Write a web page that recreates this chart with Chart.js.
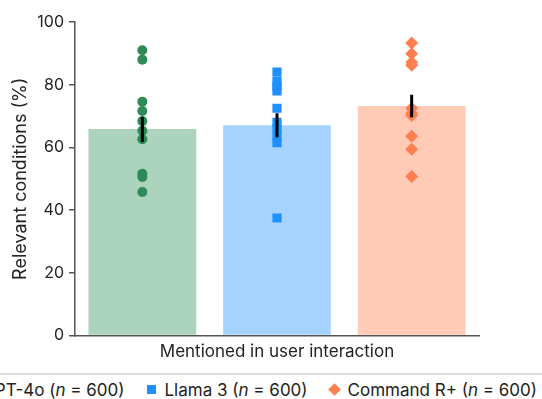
<!DOCTYPE html>
<html>
<head>
<meta charset="utf-8">
<script src="https://cdn.jsdelivr.net/npm/chart.js@4"></script>
<style>
  html, body { margin: 0; padding: 0; background: #fff; overflow: hidden; }
  #wrap { position: absolute; left: 0; top: 0; width: 542px; height: 366px; }
  #legend {
    position: absolute; left: 0; top: 373px; width: 542px; height: 26px;
    border-top: 2px solid #dedede; overflow: hidden;
    font-family: Inter, sans-serif; font-size: 17px; color: #222;
  }
  #legendRow { position: absolute; right: 5px; top: 5px; white-space: nowrap; }
  .item { display: inline-block; margin-left: 22px; }
  .mk { display: inline-block; vertical-align: middle; margin-right: 9px; position: relative; top: -2px; }
</style>
</head>
<body>
<div id="wrap"><canvas id="chart"></canvas></div>
<div id="legend"><div id="legendRow"></div></div>
<script>
// Data
const xTitle = 'Mentioned in user interaction';
const models = ['GPT-4o', 'Llama 3', 'Command R+'];
const sampleSizes = [600, 600, 600];
const barMeans = [65.9, 67.1, 73.2];
const errLow = [61.7, 63.2, 69.6];
const errHigh = [69.7, 70.9, 76.8];
const gptPoints = [91.0, 88.0, 74.6, 71.6, 68.4, 65.3, 62.6, 51.6, 50.6, 45.8];
const llamaPoints = [84.0, 81.0, 79.5, 78.0, 72.5, 68.0, 66.0, 63.5, 61.5, 37.5];
const commandPoints = [93.3, 89.9, 87.2, 86.2, 72.5, 70.9, 70.2, 63.6, 59.4, 50.7];
const yTicks = [0, 20, 40, 60, 80, 100];

// Styles
const barColors = ['#abd3bd', '#a6d3ff', '#ffcab6'];
const pointColors = ['#2e8b57', '#1e90ff', '#ff7f50'];
const pointStyles = ['circle', 'rect', 'rectRot'];
const pointRadii = [5, 6.5, 6.5];
const allPoints = [gptPoints, llamaPoints, commandPoints];
const font = 'Inter, sans-serif';

const datasets = [{
    type: 'bar',
    label: 'means',
    data: barMeans,
    backgroundColor: barColors,
    barPercentage: 0.8,
    categoryPercentage: 1.0,
    order: 2
}];
models.forEach((m, i) => {
    datasets.push({
        type: 'line',
        label: m,
        showLine: false,
        data: allPoints[i].map(v => ({ x: m, y: v })),
        backgroundColor: pointColors[i],
        borderColor: pointColors[i],
        borderWidth: 0,
        pointStyle: pointStyles[i],
        pointRadius: pointRadii[i],
        order: 1
    });
});

// error bars drawn on top of everything
const errorBars = {
    id: 'errorBars',
    afterDatasetsDraw(chart) {
        const ctx = chart.ctx;
        const y = chart.scales.y;
        const bars = chart.getDatasetMeta(0).data;
        ctx.save();
        ctx.strokeStyle = '#000';
        ctx.lineWidth = 3;
        bars.forEach((bar, i) => {
            ctx.beginPath();
            ctx.moveTo(bar.x, y.getPixelForValue(errLow[i]));
            ctx.lineTo(bar.x, y.getPixelForValue(errHigh[i]));
            ctx.stroke();
        });
        ctx.restore();
    }
};

new Chart(document.getElementById('chart'), {
    type: 'bar',
    data: { labels: models, datasets: datasets },
    options: {
        responsive: true,
        maintainAspectRatio: false,
        animation: false,
        layout: { padding: { top: 22, right: 63, bottom: 4, left: 0 } },
        plugins: { legend: { display: false }, tooltip: { enabled: false } },
        scales: {
            x: {
                type: 'category',
                grid: { display: false, drawTicks: false },
                border: { display: true, color: '#555', width: 1.5 },
                ticks: { display: false },
                title: {
                    display: true,
                    text: xTitle,
                    color: '#222',
                    padding: { top: 6, bottom: 0 },
                    font: { family: font, size: 17 }
                }
            },
            y: {
                min: 0,
                max: 100,
                afterFit: s => { s.width = 75; },
                afterBuildTicks: s => { s.ticks = yTicks.map(v => ({ value: v })); },
                grid: { drawOnChartArea: false, drawTicks: true, tickLength: 6, color: '#555', lineWidth: 1.5 },
                border: { display: true, color: '#555', width: 1.5 },
                ticks: { color: '#222', padding: 5, font: { family: font, size: 16 } },
                title: {
                    display: true,
                    text: 'Relevant conditions (%)',
                    color: '#222',
                    padding: { top: 10, bottom: 0 },
                    font: { family: font, size: 18 }
                }
            }
        }
    },
    plugins: [errorBars]
});

// HTML legend (italic n)
const row = document.getElementById('legendRow');
models.forEach((m, i) => {
    const item = document.createElement('span');
    item.className = 'item';
    const mk = document.createElement('span');
    mk.className = 'mk';
    mk.style.background = pointColors[i];
    if (pointStyles[i] === 'circle') {
        mk.style.width = '10px'; mk.style.height = '10px'; mk.style.borderRadius = '50%';
    } else if (pointStyles[i] === 'rect') {
        mk.style.width = '9px'; mk.style.height = '9px';
    } else {
        mk.style.width = '9px'; mk.style.height = '9px'; mk.style.transform = 'rotate(45deg)';
    }
    item.appendChild(mk);
    item.appendChild(document.createTextNode(m + ' ('));
    const n = document.createElement('i');
    n.textContent = 'n';
    item.appendChild(n);
    item.appendChild(document.createTextNode(' = ' + sampleSizes[i] + ')'));
    row.appendChild(item);
});
</script>
</body>
</html>
